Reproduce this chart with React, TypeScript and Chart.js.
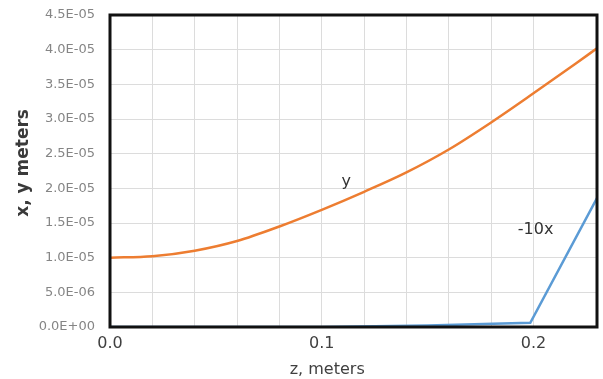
import React, { useEffect, useRef } from "react";
import { Chart, registerables } from "chart.js";

Chart.register(...registerables);

// z positions (meters) for the y series
const Z_FOR_Y = [0, 0.02, 0.04, 0.06, 0.08, 0.1, 0.12, 0.14, 0.16, 0.18, 0.2, 0.22, 0.23];
// y (meters)
const Y_VALUES = [1.0e-5, 1.02e-5, 1.1e-5, 1.24e-5, 1.45e-5, 1.69e-5, 1.95e-5, 2.23e-5, 2.56e-5, 2.95e-5, 3.37e-5, 3.8e-5, 4.02e-5];
// z positions for the -10x series
const Z_FOR_X = [0, 0.1, 0.15, 0.1985, 0.23];
// -10x (meters)
const NEG10X_VALUES = [0, 0, 2e-7, 6e-7, 1.86e-5];

// axis ranges & ticks
const X_MIN = 0;
const X_MAX = 0.23;
const X_GRID_STEP = 0.02;
const Y_MIN = 0;
const Y_MAX = 4.5e-5;
const Y_STEP = 5e-6;

const X_TITLE = "z, meters";
const Y_TITLE = "x, y meters";
const SERIES_LABELS = ["y", "-10x"];
// in-plot label anchors (data coords)
const LABEL_AT = [
  { x: 0.1116, y: 2.1e-5 },
  { x: 0.201, y: 1.4e-5 },
];

function sci(v: number): string {
  if (Math.abs(v) < 1e-20) return "0.0E+00";
  const s = v.toExponential(1);
  const [m, e] = s.split("e");
  const n = parseInt(e, 10);
  const sign = n < 0 ? "-" : "+";
  const abs = Math.abs(n).toString().padStart(2, "0");
  return `${m}E${sign}${abs}`;
}

const FONT = "'DejaVu Sans', sans-serif";

export default function App() {
  const ref = useRef<HTMLCanvasElement | null>(null);

  useEffect(() => {
    document.body.style.margin = "0";
    const canvas = ref.current;
    if (!canvas) return;

    const framePlugin = {
      id: "frameAndLabels",
      afterDraw(chart: any) {
        const { ctx, chartArea: a, scales } = chart;
        ctx.save();
        ctx.strokeStyle = "#111";
        ctx.lineWidth = 3;
        ctx.strokeRect(a.left, a.top, a.right - a.left, a.bottom - a.top);

        ctx.fillStyle = "#333";
        ctx.font = `16px ${FONT}`;
        ctx.textAlign = "center";
        ctx.textBaseline = "middle";
        SERIES_LABELS.forEach((t, i) => {
          const p = LABEL_AT[i];
          ctx.fillText(t, scales.x.getPixelForValue(p.x), scales.y.getPixelForValue(p.y));
        });

        ctx.fillStyle = "#404040";
        ctx.font = `16px ${FONT}`;
        ctx.fillText(X_TITLE, a.left + 0.446 * (a.right - a.left), 370);

        ctx.translate(24, a.top + 0.474 * (a.bottom - a.top));
        ctx.rotate(-Math.PI / 2);
        ctx.font = `bold 17px ${FONT}`;
        ctx.fillStyle = "#3a3a3a";
        ctx.fillText(Y_TITLE, 0, 0);
        ctx.restore();
      },
    };

    const chart = new Chart(canvas, {
      type: "line",
      data: {
        datasets: [
          {
            label: SERIES_LABELS[0],
            data: Z_FOR_Y.map((z, i) => ({ x: z, y: Y_VALUES[i] })),
            borderColor: "#ED7D31",
            borderWidth: 2.5,
            pointRadius: 0,
            cubicInterpolationMode: "monotone",
            fill: false,
          },
          {
            label: SERIES_LABELS[1],
            data: Z_FOR_X.map((z, i) => ({ x: z, y: NEG10X_VALUES[i] })),
            borderColor: "#5B9BD5",
            borderWidth: 2.5,
            pointRadius: 0,
            tension: 0,
            fill: false,
          },
        ],
      },
      options: {
        animation: false,
        responsive: false,
        devicePixelRatio: 1,
        layout: { padding: { top: 15, right: 6, bottom: 0, left: 0 } },
        plugins: {
          legend: { display: false },
          tooltip: { enabled: false },
        },
        scales: {
          x: {
            type: "linear",
            min: X_MIN,
            max: X_MAX,
            afterFit: (s: any) => {
              s.height = 52;
              s.paddingLeft = 0;
              s.paddingRight = 0;
            },
            grid: { color: "#dcdcdc", lineWidth: 1, drawTicks: false },
            border: { display: false },
            ticks: {
              stepSize: X_GRID_STEP,
              autoSkip: false,
              maxRotation: 0,
              padding: 7,
              color: "#404040",
              font: { family: FONT, size: 16 },
              callback: (v: any) => {
                const n = Number(v);
                const k = n * 10;
                if (Math.abs(k - Math.round(k)) < 1e-6) return n.toFixed(1);
                return "";
              },
            },
          },
          y: {
            type: "linear",
            min: Y_MIN,
            max: Y_MAX,
            afterFit: (s: any) => {
              s.width = 110;
              s.paddingTop = 0;
              s.paddingBottom = 0;
            },
            grid: { color: "#dcdcdc", lineWidth: 1, drawTicks: false },
            border: { display: false },
            ticks: {
              stepSize: Y_STEP,
              padding: 15,
              color: "#858585",
              font: { family: FONT, size: 13 },
              callback: (v: any) => sci(Number(v)),
            },
          },
        },
      },
      plugins: [framePlugin],
    } as any);

    return () => chart.destroy();
  }, []);

  return (
    <div style={{ width: 603, height: 379, background: "#fff" }}>
      <canvas ref={ref} width={603} height={379} style={{ display: "block" }} />
    </div>
  );
}
